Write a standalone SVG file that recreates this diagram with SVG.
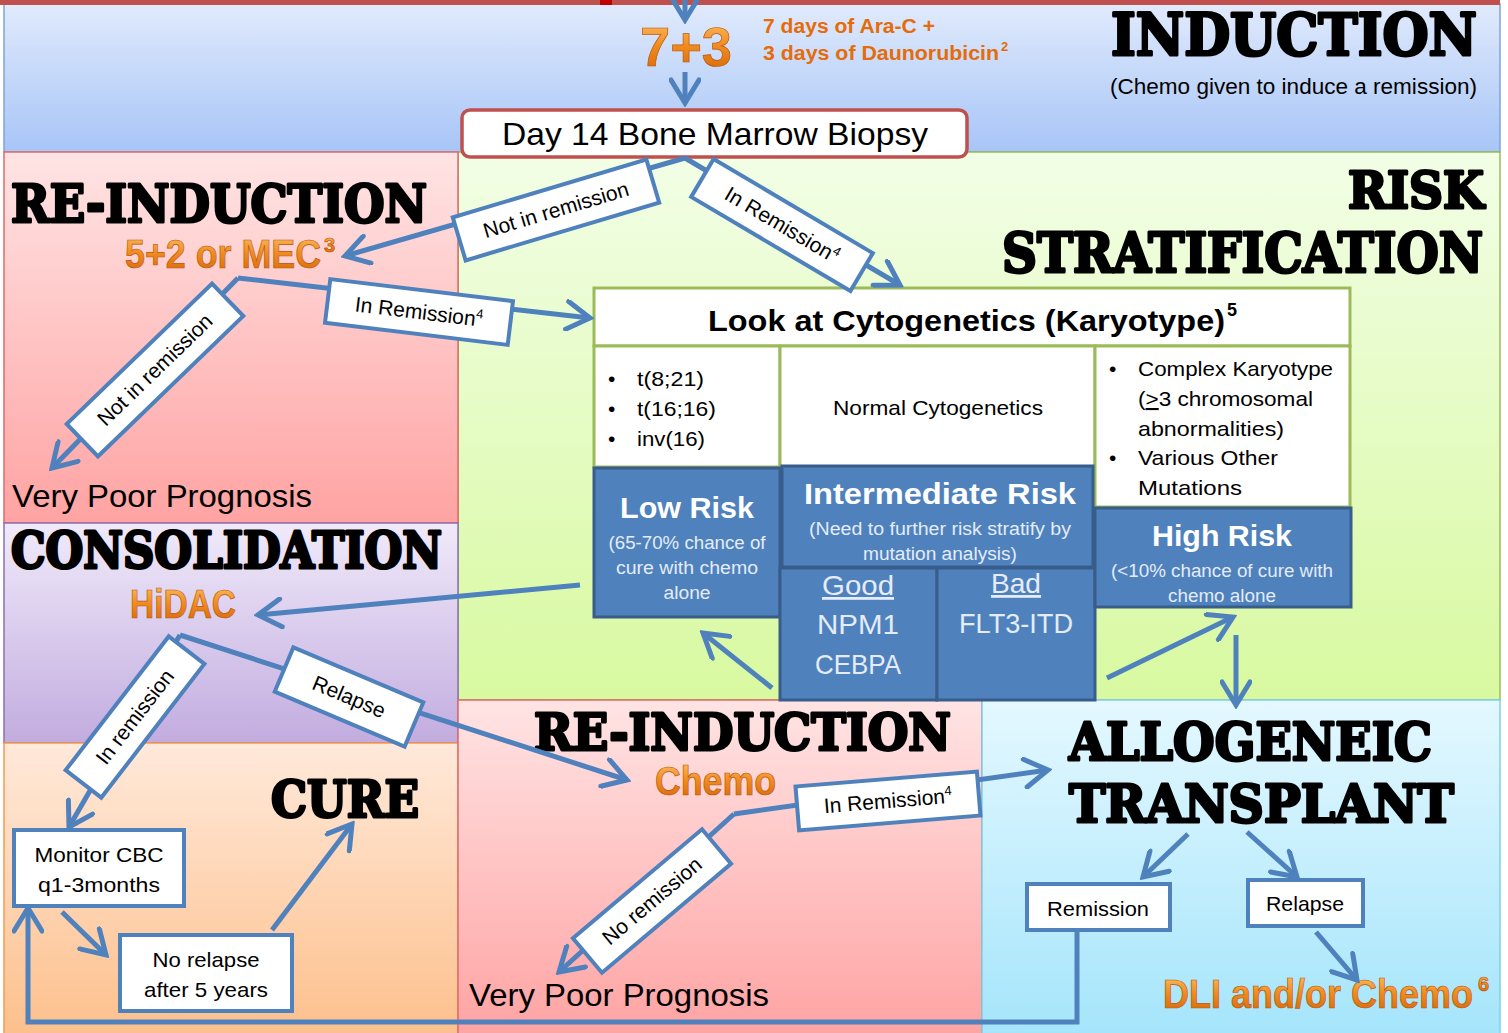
<svg xmlns="http://www.w3.org/2000/svg" width="1508" height="1033" viewBox="0 0 1508 1033">
<defs>
  <linearGradient id="gInd" x1="0" y1="0" x2="0" y2="1"><stop offset="0" stop-color="#e0eafc"/><stop offset="1" stop-color="#a7c5f7"/></linearGradient>
  <linearGradient id="gPink" x1="0" y1="0" x2="0" y2="1"><stop offset="0" stop-color="#ffe4e4"/><stop offset="1" stop-color="#ffa3a3"/></linearGradient>
  <linearGradient id="gGreen" x1="0" y1="0" x2="0" y2="1"><stop offset="0" stop-color="#f2fee6"/><stop offset="1" stop-color="#d8f9a0"/></linearGradient>
  <linearGradient id="gPurple" x1="0" y1="0" x2="0" y2="1"><stop offset="0" stop-color="#f0eafa"/><stop offset="1" stop-color="#c2acdf"/></linearGradient>
  <linearGradient id="gPeach" x1="0" y1="0" x2="0" y2="1"><stop offset="0" stop-color="#ffe9da"/><stop offset="1" stop-color="#fdc08c"/></linearGradient>
  <linearGradient id="gCyan" x1="0" y1="0" x2="0" y2="1"><stop offset="0" stop-color="#e4f8ff"/><stop offset="1" stop-color="#a5e5fb"/></linearGradient>
  <linearGradient id="og" x1="0" y1="0" x2="0" y2="1"><stop offset="0" stop-color="#fdc46a"/><stop offset="0.5" stop-color="#f08a1e"/><stop offset="1" stop-color="#d2630a"/></linearGradient>
  <marker id="ah" markerUnits="userSpaceOnUse" viewBox="0 0 32 32" refX="28" refY="16" markerWidth="32" markerHeight="32" orient="auto">
    <path d="M5,2 L28,16 L5,30" fill="none" stroke="#4f81bd" stroke-width="5" stroke-linecap="round" stroke-linejoin="miter"/>
  </marker>
</defs>
<style>
  .t{font-family:"Liberation Sans",Arial,sans-serif;fill:#000}
  .c{text-anchor:middle}
  .ttl{font-family:"DejaVu Serif","Liberation Serif",serif;font-weight:bold;fill:#000;stroke:#000;stroke-width:3;stroke-linejoin:round}
  .org{font-family:"Liberation Sans",Arial,sans-serif;font-weight:bold;fill:url(#og);stroke:#b8560c;stroke-width:0.7}
  .org2{font-family:"Liberation Sans",Arial,sans-serif;font-weight:bold;fill:#e46c0a}
  .conn{fill:none;stroke:#4f81bd;stroke-width:5}
  .lbl rect{fill:#fff;stroke:#4f81bd;stroke-width:4}
  .lbl text{font-family:"Liberation Sans",Arial,sans-serif;font-size:21px;text-anchor:middle;fill:#000}
  .box{fill:#fff;stroke:#4f81bd;stroke-width:4}
  .risk{fill:#4f81bd;stroke:#385d8a;stroke-width:3}
  .cell{fill:#fff;stroke:#9bbb59;stroke-width:3}
  .w{fill:#fff}
  .lw{fill:#e4ecf7}
</style>

<!-- background regions -->
<rect x="0" y="0" width="1508" height="1033" fill="#ffffff"/>
<g id="region-induction"><rect x="4" y="4" width="1496" height="148" fill="url(#gInd)" stroke="#7fa4d9" stroke-width="1.5"/></g>
<g id="region-risk"><rect x="458" y="152" width="1042" height="548" fill="url(#gGreen)" stroke="#9bbb59" stroke-width="1.5"/></g>
<g id="region-reinduction1"><rect x="4" y="152" width="454" height="371" fill="url(#gPink)" stroke="#e06a6a" stroke-width="1.5"/></g>
<g id="region-consolidation"><rect x="4" y="523" width="454" height="220" fill="url(#gPurple)" stroke="#8a70b0" stroke-width="1.5"/></g>
<g id="region-cure"><rect x="4" y="743" width="454" height="292" fill="url(#gPeach)" stroke="#f59a52" stroke-width="1.5"/></g>
<g id="region-reinduction2"><rect x="458" y="700" width="524" height="335" fill="url(#gPink)" stroke="#e06a6a" stroke-width="1.5"/></g>
<g id="region-allo"><rect x="982" y="700" width="518" height="335" fill="url(#gCyan)" stroke="#7fcfe6" stroke-width="1.5"/></g>
<rect x="0" y="0" width="1500" height="5" fill="#c0504d"/>
<rect x="600" y="0" width="12" height="5" fill="#c00000"/>

<!-- section titles -->
<g id="induction">
  <text class="ttl" x="1111" y="55" font-size="58" textLength="366" lengthAdjust="spacingAndGlyphs">INDUCTION</text>
  <text class="t" x="1110" y="94" font-size="22" textLength="367" lengthAdjust="spacingAndGlyphs">(Chemo given to induce a remission)</text>
  <text class="org" x="686" y="66" font-size="56" text-anchor="middle" textLength="92" lengthAdjust="spacingAndGlyphs">7+3</text>
  <text class="org2" x="763" y="33" font-size="20" textLength="172" lengthAdjust="spacingAndGlyphs">7 days of Ara-C +</text>
  <text class="org2" x="763" y="60" font-size="20" textLength="236" lengthAdjust="spacingAndGlyphs">3 days of Daunorubicin</text>
  <text class="org2" x="1001" y="51" font-size="13">2</text>
</g>
<g id="biopsy">
  <rect x="462" y="110" width="505" height="47" rx="8" fill="#fff" stroke="#c0504d" stroke-width="3.5"/>
  <text class="t c" x="715" y="145" font-size="32" textLength="426" lengthAdjust="spacingAndGlyphs">Day 14 Bone Marrow Biopsy</text>
</g>
<g id="reinduction1">
  <text class="ttl" x="11" y="222" font-size="52" textLength="416" lengthAdjust="spacingAndGlyphs">RE-INDUCTION</text>
  <text class="org" x="125" y="268" font-size="41" textLength="196" lengthAdjust="spacingAndGlyphs">5+2 or MEC</text>
  <text class="org" x="324" y="252" font-size="20">3</text>
  <text class="t" x="12" y="507" font-size="32" textLength="300" lengthAdjust="spacingAndGlyphs">Very Poor Prognosis</text>
</g>
<g id="risk-title">
  <text class="ttl" x="1348" y="208" font-size="50" textLength="136" lengthAdjust="spacingAndGlyphs">RISK</text>
  <text class="ttl" x="1002" y="272" font-size="54" textLength="481" lengthAdjust="spacingAndGlyphs">STRATIFICATION</text>
</g>

<!-- cytogenetics table -->
<g id="cytogenetics">
  <rect class="cell" x="594" y="288" width="756" height="58"/>
  <text class="t" x="708" y="331" font-size="30" font-weight="bold" textLength="517" lengthAdjust="spacingAndGlyphs">Look at Cytogenetics  (Karyotype)</text>
  <text class="t" x="1227" y="316" font-size="18" font-weight="bold">5</text>
</g>
<g id="cell-favorable">
  <rect class="cell" x="594" y="346" width="186" height="121"/>
  <text class="t" x="608" y="386" font-size="21">•</text>
  <text class="t" x="637" y="386" font-size="21" textLength="67" lengthAdjust="spacingAndGlyphs">t(8;21)</text>
  <text class="t" x="608" y="416" font-size="21">•</text>
  <text class="t" x="637" y="416" font-size="21" textLength="79" lengthAdjust="spacingAndGlyphs">t(16;16)</text>
  <text class="t" x="608" y="446" font-size="21">•</text>
  <text class="t" x="637" y="446" font-size="21" textLength="68" lengthAdjust="spacingAndGlyphs">inv(16)</text>
</g>
<g id="cell-normal">
  <rect class="cell" x="780" y="346" width="315" height="121"/>
  <text class="t c" x="938" y="415" font-size="21" textLength="210" lengthAdjust="spacingAndGlyphs">Normal Cytogenetics</text>
</g>
<g id="cell-complex">
  <rect class="cell" x="1095" y="346" width="255" height="161"/>
  <text class="t" x="1109" y="376" font-size="21">•</text>
  <text class="t" x="1138" y="376" font-size="21" textLength="195" lengthAdjust="spacingAndGlyphs">Complex Karyotype</text>
  <text class="t" x="1138" y="406" font-size="21" textLength="175" lengthAdjust="spacingAndGlyphs">(<tspan text-decoration="underline">&gt;</tspan>3 chromosomal</text>
  <text class="t" x="1138" y="436" font-size="21" textLength="146" lengthAdjust="spacingAndGlyphs">abnormalities)</text>
  <text class="t" x="1109" y="465" font-size="21">•</text>
  <text class="t" x="1138" y="465" font-size="21" textLength="140" lengthAdjust="spacingAndGlyphs">Various Other</text>
  <text class="t" x="1138" y="495" font-size="21" textLength="104" lengthAdjust="spacingAndGlyphs">Mutations</text>
</g>
<g id="low-risk">
  <rect class="risk" x="594" y="468" width="186" height="149"/>
  <text class="t c w" x="687" y="518" font-size="30" font-weight="bold" textLength="134" lengthAdjust="spacingAndGlyphs">Low Risk</text>
  <text class="t c lw" x="687" y="549" font-size="18" textLength="157" lengthAdjust="spacingAndGlyphs">(65-70% chance of</text>
  <text class="t c lw" x="687" y="574" font-size="18" textLength="142" lengthAdjust="spacingAndGlyphs">cure with chemo</text>
  <text class="t c lw" x="687" y="599" font-size="18" textLength="47" lengthAdjust="spacingAndGlyphs">alone</text>
</g>
<g id="intermediate-risk">
  <rect class="risk" x="782" y="466" width="311" height="101"/>
  <text class="t c w" x="940" y="504" font-size="30" font-weight="bold" textLength="272" lengthAdjust="spacingAndGlyphs">Intermediate Risk</text>
  <text class="t c lw" x="940" y="535" font-size="18" textLength="262" lengthAdjust="spacingAndGlyphs">(Need to further risk stratify by</text>
  <text class="t c lw" x="940" y="560" font-size="18" textLength="154" lengthAdjust="spacingAndGlyphs">mutation analysis)</text>
</g>
<g id="good">
  <rect class="risk" x="780" y="568" width="157" height="132"/>
  <text class="t c lw" x="858" y="595" font-size="28" text-decoration="underline" textLength="72" lengthAdjust="spacingAndGlyphs">Good</text>
  <text class="t c lw" x="858" y="634" font-size="28" textLength="82" lengthAdjust="spacingAndGlyphs">NPM1</text>
  <text class="t c lw" x="858" y="674" font-size="28" textLength="86" lengthAdjust="spacingAndGlyphs">CEBPA</text>
</g>
<g id="bad">
  <rect class="risk" x="937" y="568" width="158" height="132"/>
  <text class="t c lw" x="1016" y="593" font-size="28" text-decoration="underline" textLength="50" lengthAdjust="spacingAndGlyphs">Bad</text>
  <text class="t c lw" x="1016" y="633" font-size="28" textLength="114" lengthAdjust="spacingAndGlyphs">FLT3-ITD</text>
</g>
<g id="high-risk">
  <rect class="risk" x="1095" y="508" width="256" height="99"/>
  <text class="t c w" x="1222" y="546" font-size="30" font-weight="bold" textLength="140" lengthAdjust="spacingAndGlyphs">High Risk</text>
  <text class="t c lw" x="1222" y="577" font-size="18" textLength="222" lengthAdjust="spacingAndGlyphs">(&lt;10% chance of cure with</text>
  <text class="t c lw" x="1222" y="602" font-size="18" textLength="108" lengthAdjust="spacingAndGlyphs">chemo alone</text>
</g>

<!-- consolidation / cure -->
<g id="consolidation">
  <text class="ttl" x="11" y="568" font-size="50" textLength="431" lengthAdjust="spacingAndGlyphs">CONSOLIDATION</text>
  <text class="org" x="130" y="618" font-size="40" textLength="106" lengthAdjust="spacingAndGlyphs">HiDAC</text>
</g>
<g id="cure">
  <text class="ttl" x="271" y="817" font-size="51" textLength="148" lengthAdjust="spacingAndGlyphs">CURE</text>
</g>
<g id="monitor">
  <rect class="box" x="14" y="830" width="170" height="76"/>
  <text class="t c" x="99" y="862" font-size="21" textLength="129" lengthAdjust="spacingAndGlyphs">Monitor CBC</text>
  <text class="t c" x="99" y="892" font-size="21" textLength="122" lengthAdjust="spacingAndGlyphs">q1-3months</text>
</g>
<g id="no-relapse">
  <rect class="box" x="120" y="935" width="172" height="76"/>
  <text class="t c" x="206" y="967" font-size="21" textLength="107" lengthAdjust="spacingAndGlyphs">No relapse</text>
  <text class="t c" x="206" y="997" font-size="21" textLength="124" lengthAdjust="spacingAndGlyphs">after 5 years</text>
</g>

<!-- re-induction 2 -->
<g id="reinduction2">
  <text class="ttl" x="534" y="750" font-size="51" textLength="417" lengthAdjust="spacingAndGlyphs">RE-INDUCTION</text>
  <text class="org" x="655" y="795" font-size="40" textLength="121" lengthAdjust="spacingAndGlyphs">Chemo</text>
  <text class="t" x="469" y="1006" font-size="32" textLength="300" lengthAdjust="spacingAndGlyphs">Very Poor Prognosis</text>
</g>

<!-- allogeneic -->
<g id="allogeneic">
  <text class="ttl" x="1069" y="760" font-size="52" textLength="363" lengthAdjust="spacingAndGlyphs">ALLOGENEIC</text>
  <text class="ttl" x="1069" y="822" font-size="52" textLength="385" lengthAdjust="spacingAndGlyphs">TRANSPLANT</text>
</g>
<g id="remission">
  <rect class="box" x="1027" y="884" width="143" height="46"/>
  <text class="t c" x="1098" y="916" font-size="21" textLength="102" lengthAdjust="spacingAndGlyphs">Remission</text>
</g>
<g id="relapse">
  <rect class="box" x="1248" y="880" width="115" height="46"/>
  <text class="t c" x="1305" y="911" font-size="21" textLength="78" lengthAdjust="spacingAndGlyphs">Relapse</text>
</g>
<g id="dli">
  <text class="org" x="1163" y="1008" font-size="40" textLength="310" lengthAdjust="spacingAndGlyphs">DLI and/or Chemo</text>
  <text class="org" x="1478" y="991" font-size="20">6</text>
</g>

<!-- connectors -->
<g id="connectors">
  <line class="conn" x1="685" y1="-3" x2="685" y2="20" marker-end="url(#ah)"/>
  <line class="conn" x1="685" y1="72" x2="685" y2="103" marker-end="url(#ah)"/>
  <line class="conn" x1="685" y1="158" x2="345" y2="256" marker-end="url(#ah)"/>
  <line class="conn" x1="685" y1="158" x2="900" y2="285" marker-end="url(#ah)"/>
  <line class="conn" x1="238" y1="278" x2="590" y2="318" marker-end="url(#ah)"/>
  <line class="conn" x1="238" y1="278" x2="52" y2="468" marker-end="url(#ah)"/>
  <line class="conn" x1="580" y1="585" x2="258" y2="615" marker-end="url(#ah)"/>
  <line class="conn" x1="180" y1="635" x2="69" y2="827" marker-end="url(#ah)"/>
  <line class="conn" x1="180" y1="635" x2="627" y2="780" marker-end="url(#ah)"/>
  <line class="conn" x1="62" y1="912" x2="106" y2="955" marker-end="url(#ah)"/>
  <line class="conn" x1="272" y1="930" x2="352" y2="824" marker-end="url(#ah)"/>
  <polyline class="conn" points="1077,930 1077,1022 28,1022 28,908" marker-end="url(#ah)"/>
  <line class="conn" x1="772" y1="688" x2="703" y2="633" marker-end="url(#ah)"/>
  <line class="conn" x1="1107" y1="678" x2="1233" y2="617" marker-end="url(#ah)"/>
  <line class="conn" x1="1236" y1="635" x2="1236" y2="705" marker-end="url(#ah)"/>
  <line class="conn" x1="734" y1="814" x2="1048" y2="770" marker-end="url(#ah)"/>
  <line class="conn" x1="734" y1="814" x2="559" y2="972" marker-end="url(#ah)"/>
  <line class="conn" x1="1188" y1="834" x2="1143" y2="877" marker-end="url(#ah)"/>
  <line class="conn" x1="1247" y1="832" x2="1297" y2="877" marker-end="url(#ah)"/>
  <line class="conn" x1="1316" y1="932" x2="1357" y2="980" marker-end="url(#ah)"/>

  <g class="lbl" transform="translate(556,210) rotate(-16.6)"><rect x="-101" y="-22.5" width="202" height="45"/><text x="0" y="7">Not in remission</text></g>
  <g class="lbl" transform="translate(782,225) rotate(30.6)"><rect x="-92.5" y="-22" width="185" height="44"/><text x="0" y="7">In Remission<tspan font-size="13" dy="-8">4</tspan></text></g>
  <g class="lbl" transform="translate(419,312) rotate(6.9)"><rect x="-92" y="-22" width="184" height="44"/><text x="0" y="7">In Remission<tspan font-size="13" dy="-8">4</tspan></text></g>
  <g class="lbl" transform="translate(155,370) rotate(-44)"><rect x="-101" y="-22.5" width="202" height="45"/><text x="0" y="7">Not in remission</text></g>
  <g class="lbl" transform="translate(135,717) rotate(-52.4)"><rect x="-84.5" y="-22.5" width="169" height="45"/><text x="0" y="7">In remission</text></g>
  <g class="lbl" transform="translate(349,697) rotate(22.9)"><rect x="-70.5" y="-24" width="141" height="48"/><text x="0" y="7">Relapse</text></g>
  <g class="lbl" transform="translate(888,801) rotate(-4.7)"><rect x="-91" y="-22" width="182" height="44"/><text x="0" y="7">In Remission<tspan font-size="13" dy="-8">4</tspan></text></g>
  <g class="lbl" transform="translate(652,901) rotate(-40.2)"><rect x="-84.5" y="-22.5" width="169" height="45"/><text x="0" y="7">No remission</text></g>
</g>
</svg>
